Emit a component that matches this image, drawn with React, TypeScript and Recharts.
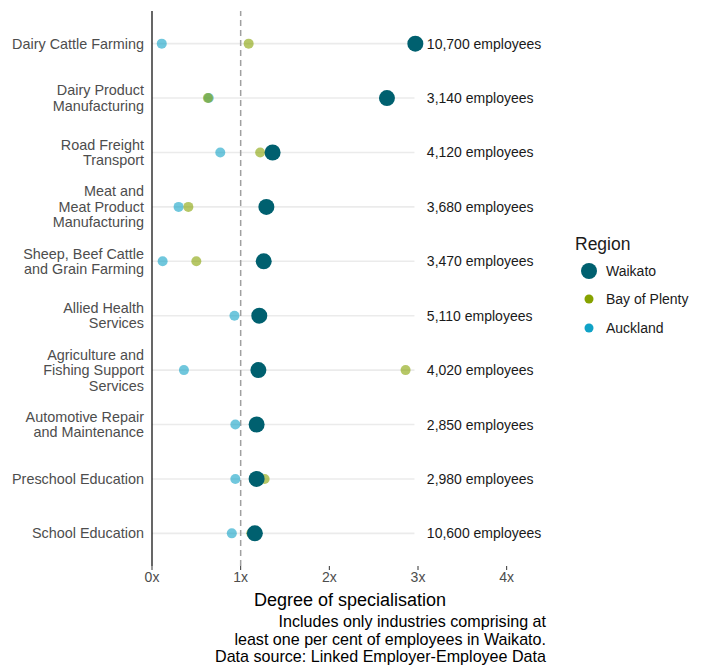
import { ScatterChart, Scatter, XAxis, YAxis, ReferenceLine, Legend } from "recharts"

const industries = [
  "Dairy Cattle Farming",
  "Dairy Product\nManufacturing",
  "Road Freight\nTransport",
  "Meat and\nMeat Product\nManufacturing",
  "Sheep, Beef Cattle\nand Grain Farming",
  "Allied Health\nServices",
  "Agriculture and\nFishing Support\nServices",
  "Automotive Repair\nand Maintenance",
  "Preschool Education",
  "School Education",
]

// degree of specialisation (x times national share)
const waikato = [2.97, 2.65, 1.36, 1.29, 1.26, 1.21, 1.2, 1.18, 1.18, 1.16]
const bayOfPlenty = [1.09, 0.63, 1.22, 0.41, 0.5, 1.21, 2.86, 1.18, 1.27, 1.12]
const auckland = [0.11, 0.64, 0.77, 0.3, 0.12, 0.93, 0.36, 0.94, 0.94, 0.9]
const employees = ["10,700", "3,140", "4,120", "3,680", "3,470", "5,110", "4,020", "2,850", "2,980", "10,600"]

const xTicks = [0, 1, 2, 3, 4]
const yTicks = industries.map((_, i) => i + 1)

const FONT = "'Liberation Sans', Arial, sans-serif"
const WAIKATO = "#00606f"
const BOP = "#86a200"
const AUCKLAND = "#10a2c6"
const LINE_END = 2.96
const LABEL_X = 3.1

const toPoints = (values: number[]) => values.map((x, i) => ({ x, y: i + 1 }))
const labelPoints = employees.map((e, i) => ({ x: LABEL_X, y: i + 1, label: `${e} employees` }))

const legendItems = [
  { name: "Waikato", color: WAIKATO, r: 8 },
  { name: "Bay of Plenty", color: BOP, r: 4.5 },
  { name: "Auckland", color: AUCKLAND, r: 4.5 },
]

const dot = (r: number, color: string, opacity: number) => (props: any) => (
  <circle cx={props.cx} cy={props.cy} r={r} fill={color} fillOpacity={opacity} />
)

const IndustryTick = ({ x, y, payload }: any) => {
  const lines = industries[payload.value - 1].split("\n")
  const start = (-(lines.length - 1) / 2) * 15.5 + 5
  return (
    <text x={x} y={y} textAnchor="end" fill="#4d4d4d" fontSize={14.4} fontFamily={FONT}>
      {lines.map((l, k) => (
        <tspan key={k} x={x} dy={k === 0 ? start : 15.5}>
          {l}
        </tspan>
      ))}
    </text>
  )
}

const EmployeeLabel = (props: any) => (
  <text x={props.cx} y={props.cy} dy={5} fill="#1a1a1a" fontSize={14} fontFamily={FONT}>
    {props.payload.label}
  </text>
)

const RegionLegend = () => (
  <div style={{ fontFamily: FONT, color: "#1a1a1a" }}>
    <div style={{ fontSize: 17.5, lineHeight: "22px" }}>Region</div>
    <div style={{ marginTop: 1.5 }}>
      {legendItems.map((it) => (
        <div key={it.name} style={{ display: "flex", alignItems: "center", height: 28.5 }}>
          <svg width={28} height={20}>
            <circle cx={14} cy={10} r={it.r} fill={it.color} />
          </svg>
          <span style={{ marginLeft: 3, fontSize: 14 }}>{it.name}</span>
        </div>
      ))}
    </div>
  </div>
)

export default function App() {
  return (
    <div style={{ position: "absolute", left: 0, top: 0, width: 709, height: 667, background: "#fff" }}>
      <ScatterChart width={709} height={667} margin={{ top: 11, right: 158, bottom: 71, left: 0 }}>
        <XAxis
          type="number"
          dataKey="x"
          domain={[0, 4.5]}
          ticks={xTicks}
          tickFormatter={(v: number) => `${v}x`}
          axisLine={false}
          tickLine={{ stroke: "#333" }}
          tickSize={4}
          tick={{ fill: "#4d4d4d", fontSize: 14, fontFamily: FONT }}
          height={30}
        />
        <YAxis
          type="number"
          dataKey="y"
          domain={[0.4, 10.6]}
          reversed
          ticks={yTicks}
          width={152}
          axisLine={{ stroke: "#000", strokeWidth: 1.2 }}
          tickLine={false}
          tick={<IndustryTick />}
          interval={0}
        />
        {yTicks.map((y) => (
          <ReferenceLine
            key={y}
            segment={[
              { x: 0, y },
              { x: LINE_END, y },
            ]}
            stroke="#ebebeb"
            strokeWidth={1.6}
          />
        ))}
        <ReferenceLine x={1} stroke="#a0a0a0" strokeWidth={1.5} strokeDasharray="6 4" />
        <Scatter name="Auckland" data={toPoints(auckland)} shape={dot(5, AUCKLAND, 0.6)} isAnimationActive={false} />
        <Scatter name="Bay of Plenty" data={toPoints(bayOfPlenty)} shape={dot(5, BOP, 0.6)} isAnimationActive={false} />
        <Scatter name="Waikato" data={toPoints(waikato)} shape={dot(8, WAIKATO, 1)} isAnimationActive={false} />
        <Scatter name="labels" data={labelPoints} shape={EmployeeLabel} legendType="none" isAnimationActive={false} />
        <Legend
          layout="vertical"
          align="center"
          verticalAlign="middle"
          content={<RegionLegend />}
          wrapperStyle={{ left: 575, top: 233, width: 130 }}
        />
      </ScatterChart>
      <div
        style={{
          position: "absolute",
          left: 150,
          width: 400,
          top: 589,
          textAlign: "center",
          fontFamily: FONT,
          fontSize: 18,
          lineHeight: "22px",
          color: "#000",
        }}
      >
        Degree of specialisation
      </div>
      <div
        style={{
          position: "absolute",
          right: 163,
          top: 613,
          textAlign: "right",
          fontFamily: FONT,
          fontSize: 16.1,
          lineHeight: "17.5px",
          color: "#000",
          whiteSpace: "nowrap",
        }}
      >
        Includes only industries comprising at
        <br />
        least one per cent of employees in Waikato.
        <br />
        Data source: Linked Employer-Employee Data
      </div>
    </div>
  )
}
